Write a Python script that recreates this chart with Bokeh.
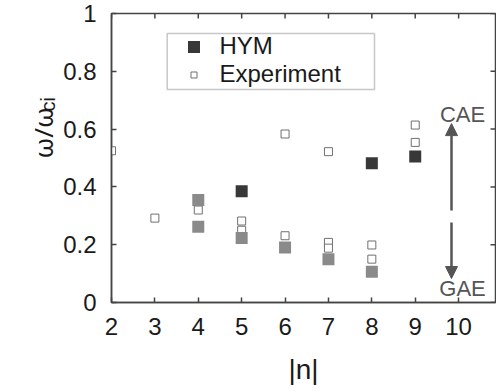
import math
from bokeh.plotting import figure
from bokeh.layouts import row
from bokeh.models import (Range1d, FixedTicker, Legend, LegendItem,
                          Label, Arrow, NormalHead, BoxAnnotation)
from bokeh.embed import file_html
from bokeh.resources import INLINE

# ---- data ----
x_ticks = [2, 3, 4, 5, 6, 7, 8, 9, 10]
y_ticks = [0, 0.2, 0.4, 0.6, 0.8, 1]
y_tick_labels = {0: "0", 0.2: "0.2", 0.4: "0.4", 0.6: "0.6", 0.8: "0.8", 1: "1"}

hym_cae_n = [5, 8, 9]
hym_cae_w = [0.385, 0.482, 0.505]

hym_gae_n = [4, 4, 5, 6, 7, 8]
hym_gae_w = [0.355, 0.262, 0.223, 0.190, 0.150, 0.106]

exp_n = [2, 3, 4, 5, 5, 6, 6, 7, 7, 7, 8, 8, 9, 9]
exp_w = [0.525, 0.292, 0.320, 0.282, 0.250, 0.583, 0.231, 0.522, 0.208, 0.188,
         0.199, 0.150, 0.614, 0.554]

X_MIN, X_MAX = 2, 10.85
Y_MIN, Y_MAX = 0, 1

FONT = "Liberation Sans"
AX = "#444444"
TXT = "#1a1a1a"

# ---- y-axis title panel (ω/ω_ci with subscript) ----
lab = figure(width=60, height=392, x_range=Range1d(0, 60), y_range=Range1d(0, 392),
             output_backend="svg", toolbar_location=None,
             min_border_left=0, min_border_right=0, min_border_top=0, min_border_bottom=0)
lab.axis.visible = False
lab.grid.visible = False
lab.outline_line_color = None
lab.add_layout(Label(x=42, y=230, text="ω/ω", angle=math.pi / 2, text_align="center",
                     text_baseline="alphabetic", text_font="Noto Sans",
                     text_font_size="26px", text_color=TXT))
lab.add_layout(Label(x=47, y=259, text="ci", angle=math.pi / 2, text_align="left",
                     text_baseline="alphabetic", text_font=FONT,
                     text_font_size="20px", text_color=TXT))

# ---- main plot ----
p = figure(width=436, height=392, x_range=Range1d(X_MIN, X_MAX), y_range=Range1d(Y_MIN, Y_MAX),
           output_backend="svg", toolbar_location=None,
           min_border_left=51, min_border_right=1, min_border_top=13, min_border_bottom=90)
p.grid.visible = False
p.outline_line_color = AX
p.outline_line_width = 1.5

for ax in (p.xaxis[0], p.yaxis[0]):
    ax.axis_line_color = AX
    ax.axis_line_width = 1.5
    ax.major_tick_line_color = AX
    ax.major_tick_line_width = 1.5
    ax.major_tick_in = 5
    ax.major_tick_out = 0
    ax.minor_tick_line_color = None
    ax.major_label_text_font = FONT
    ax.major_label_text_font_size = "24px"
    ax.major_label_text_color = TXT

p.xaxis.ticker = FixedTicker(ticks=x_ticks)
p.yaxis.ticker = FixedTicker(ticks=y_ticks)
p.yaxis.major_label_overrides = y_tick_labels
p.xaxis.major_label_standoff = 15
p.yaxis.major_label_standoff = 15
p.xaxis.axis_label = "|n|"
p.xaxis.axis_label_text_font = FONT
p.xaxis.axis_label_text_font_size = "28px"
p.xaxis.axis_label_text_font_style = "normal"
p.xaxis.axis_label_text_color = TXT
p.xaxis.axis_label_standoff = 16

# inward ticks on top and right frame edges
p.scatter(x_ticks, [Y_MAX] * len(x_ticks), marker="dash", angle=math.pi / 2, size=10,
          line_color=AX, line_width=1.5)
p.scatter([X_MAX] * len(y_ticks), y_ticks, marker="dash", size=10,
          line_color=AX, line_width=1.5)

# ---- marks ----
exp_r = p.scatter(exp_n, exp_w, marker="square", size=8, fill_color="white",
                  line_color="#707070", line_width=1)
gae_r = p.rect(hym_gae_n, hym_gae_w, width=12, height=12, width_units="screen",
               height_units="screen", fill_color="#8a8a8a", line_color=None)
cae_r = p.rect(hym_cae_n, hym_cae_w, width=12, height=12, width_units="screen",
               height_units="screen", fill_color="#383838", line_color=None)

# ---- legend ----
box = BoxAnnotation(left=3.284, right=8.061, top=0.931, bottom=0.737,
                    fill_color="white", fill_alpha=1, line_color=AX, line_width=1.5)
p.add_layout(box)
legend = Legend(items=[LegendItem(label="HYM", renderers=[cae_r]),
                       LegendItem(label="Experiment", renderers=[exp_r])],
                location=(74.5, 214), glyph_width=15, glyph_height=15,
                label_standoff=19, padding=0, spacing=0, margin=0,
                border_line_color=None, background_fill_alpha=0,
                label_text_font=FONT, label_text_font_size="24px",
                label_text_color=TXT)
p.add_layout(legend)

# ---- arrows and annotations ----
ARC = "#555555"
p.add_layout(Arrow(end=NormalHead(size=12, fill_color=ARC, line_color=ARC),
                   x_start=9.836, y_start=0.318, x_end=9.836, y_end=0.619,
                   line_color=ARC, line_width=2.5))
p.add_layout(Arrow(end=NormalHead(size=12, fill_color=ARC, line_color=ARC),
                   x_start=9.836, y_start=0.277, x_end=9.836, y_end=0.083,
                   line_color=ARC, line_width=2.5))
p.add_layout(Label(x=10.09, y=0.650, text="CAE", text_align="center", text_baseline="middle",
                   text_font=FONT, text_font_size="22px", text_color=ARC))
p.add_layout(Label(x=10.09, y=0.048, text="GAE", text_align="center", text_baseline="middle",
                   text_font=FONT, text_font_size="22px", text_color=ARC))

layout = row(lab, p, spacing=0)
open("out.html", "w").write(file_html(layout, INLINE))
